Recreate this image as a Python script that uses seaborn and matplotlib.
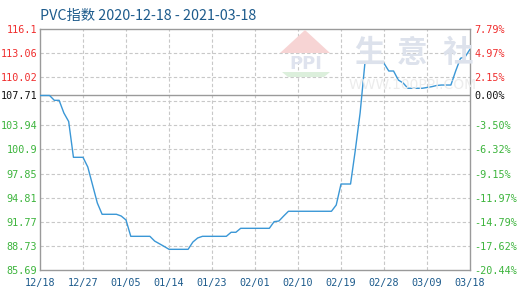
import numpy as np
import pandas as pd
import matplotlib
matplotlib.use("Agg")
import matplotlib.pyplot as plt
from matplotlib.patches import Polygon
import seaborn as sns

# ---- data ----
start_date = "2020-12-18"
end_date = "2021-03-18"
values = [
    107.71, 107.71, 107.71, 107.10, 107.10, 105.50, 104.43, 99.91, 99.91, 99.91,
    98.69, 96.42, 94.14, 92.72, 92.72, 92.72, 92.72, 92.50, 92.00, 89.94,
    89.94, 89.94, 89.94, 89.94, 89.34, 89.00, 88.66, 88.30, 88.30, 88.30,
    88.30, 88.30, 89.22, 89.73, 89.94, 89.94, 89.94, 89.94, 89.94, 89.94,
    90.45, 90.45, 90.95, 90.95, 90.95, 90.95, 90.95, 90.95, 90.95, 91.79,
    91.87, 92.50, 93.10, 93.10, 93.10, 93.10, 93.10, 93.10, 93.10, 93.10,
    93.10, 93.10, 93.89, 96.54, 96.54, 96.54, 100.83, 105.50, 111.77, 111.77,
    111.77, 111.77, 111.77, 110.80, 110.80, 109.66, 109.29, 108.62, 108.62, 108.62,
    108.62, 108.72, 108.82, 108.97, 109.03, 109.03, 109.03, 110.80, 112.40, 112.60,
    113.55,
]
base_value = 107.71
left_ticks = [116.1, 113.06, 110.02, 107.71, 103.94, 100.9, 97.85, 94.81, 91.77, 88.73, 85.69]
left_labels = ["116.1", "113.06", "110.02", "107.71", "103.94", "100.9", "97.85",
               "94.81", "91.77", "88.73", "85.69"]
right_labels = ["7.79%", "4.97%", "2.15%", "0.00%", "-3.50%", "-6.32%", "-9.15%",
                "-11.97%", "-14.79%", "-17.62%", "-20.44%"]
grid_levels = [113.06, 110.02, 106.98, 103.94, 100.9, 97.85, 94.81, 91.77, 88.73]
x_tick_labels = ["12/18", "12/27", "01/05", "01/14", "01/23", "02/01", "02/10",
                 "02/19", "02/28", "03/09", "03/18"]
title = "PVC指数 2020-12-18 - 2021-03-18"

dates = pd.date_range(start_date, end_date, freq="D")
df = pd.DataFrame({"date": dates, "value": values})

# ---- style ----
sns.set_theme(style="white")
plt.rcParams["font.family"] = ["DejaVu Sans Mono", "DejaVu Sans"]

RED = "#f02e2e"
GREEN = "#3cb43c"
BLACK = "#111111"
BLUE_TXT = "#1d5b8c"
LINE = "#3a97d6"
GRID = "#c8c8c8"
SPINE = "#9a9a9a"

W, H = 520, 300
fig = plt.figure(figsize=(W / 100, H / 100), dpi=100)
L, R, T, B = 40, 470, 29, 270
ax = fig.add_axes([L / W, 1 - B / H, (R - L) / W, (B - T) / H])

# watermark (behind)
def px(x, y):
    return (x / W, 1 - y / H)

tri = Polygon([px(280, 53), px(305, 30), px(330, 53)], closed=True,
              transform=fig.transFigure, facecolor="#f7d4d4", edgecolor="none", zorder=0)
fig.patches.append(tri)
fig.text(*px(306, 64), "PPI", transform=fig.transFigure, ha="center", va="center",
         fontsize=13, fontweight="bold", color="#dfe3ee", family="DejaVu Sans", zorder=0)
arc = Polygon([px(282, 72), px(330, 72), px(324, 77), px(288, 77)], closed=True,
              transform=fig.transFigure, facecolor="#dcefdc", edgecolor="none", zorder=0)
fig.patches.append(arc)
for ch, cx in zip("生意社", [369, 412, 458]):
    fig.text(*px(cx, 53), ch, ha="center", va="center", fontsize=22,
             color="#dde2ec", family=["Noto Sans CJK SC"], fontweight="bold", zorder=0)
fig.text(*px(413, 85), "WWW.100PPI.COM", ha="center", va="center", fontsize=10,
         color="#ececec", family="DejaVu Sans", zorder=0)
ax.set_facecolor("none")

sns.lineplot(data=df, x="date", y="value", ax=ax, color=LINE, linewidth=1.0, zorder=3)

ax.set_xlim(dates[0], dates[-1])
ax.set_ylim(left_ticks[-1], left_ticks[0])

# grid
xt = dates[::9]
for d in xt[1:-1]:
    ax.axvline(d, color=GRID, linestyle=(0, (3, 2)), linewidth=0.8, zorder=1)
for g in grid_levels:
    ax.axhline(g, color=GRID, linestyle=(0, (3, 2)), linewidth=0.8, zorder=1)
ax.axhline(base_value, color=SPINE, linewidth=1.0, zorder=2)

ax.set_xticks(xt)
ax.set_xticklabels(x_tick_labels, fontsize=7.3, color=BLUE_TXT)
ax.set_yticks(left_ticks)
ax.set_yticklabels(left_labels, fontsize=7.3)
def col(v):
    if v > base_value + 1e-9:
        return RED
    if abs(v - base_value) < 1e-9:
        return BLACK
    return GREEN
for lbl, v in zip(ax.get_yticklabels(), left_ticks):
    lbl.set_color(col(v))
ax.tick_params(axis="both", length=0, pad=2)
ax.tick_params(axis="x", pad=6)
ax.set_xlabel("")
ax.set_ylabel("")
for s in ax.spines.values():
    s.set_color(SPINE)
    s.set_linewidth(1.0)

ax2 = ax.twinx()
ax2.set_ylim(ax.get_ylim())
ax2.set_yticks(left_ticks)
ax2.set_yticklabels(right_labels, fontsize=7.3)
for lbl, v in zip(ax2.get_yticklabels(), left_ticks):
    lbl.set_color(col(v))
ax2.tick_params(axis="y", length=0, pad=3)
for s in ax2.spines.values():
    s.set_visible(False)

fig.text(40 / W, 1 - 16 / H, title, ha="left", va="center", fontsize=10.3,
         color=BLUE_TXT, family=["Noto Sans CJK SC", "DejaVu Sans"])

fig.savefig("out.png", dpi=100)
